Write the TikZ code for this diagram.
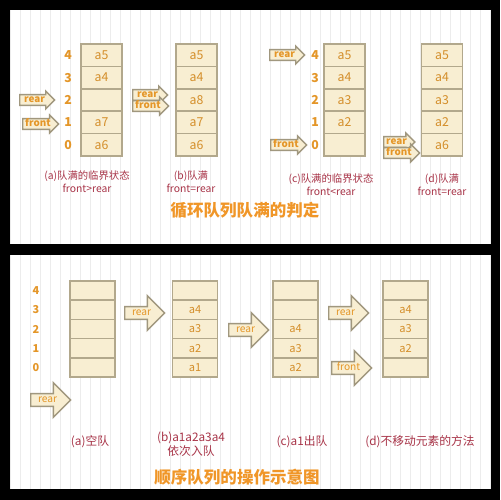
\documentclass[tikz,border=0pt]{standalone}
\usepackage{fontspec}
\setmainfont{Noto Sans CJK SC}
\usetikzlibrary{shapes.arrows}

\definecolor{cellFill}{RGB}{248,238,210}
\definecolor{cellLine}{RGB}{178,168,140}
\definecolor{idxOrange}{RGB}{228,150,40}
\definecolor{cellText}{RGB}{212,142,42}
\definecolor{capRed}{RGB}{168,52,72}
\definecolor{titleOrange}{RGB}{240,150,40}
\definecolor{gridLine}{RGB}{236,236,236}

\tikzset{
  topcell/.style={draw=cellLine, fill=cellFill, line width=1pt, minimum width=0.82cm,
    minimum height=0.448cm, inner sep=0pt, text=cellText, font=\fontsize{7}{8}\selectfont},
  botcell/.style={topcell, minimum width=0.9cm, minimum height=0.384cm,
    font=\fontsize{6.3}{7}\selectfont},
  topidx/.style={text=idxOrange, inner sep=0pt, font=\fontsize{7}{8}\selectfont\bfseries},
  botidx/.style={topidx, font=\fontsize{6.2}{7}\selectfont\bfseries},
  ptr/.style={single arrow, anchor=tail, draw=cellLine!90!black, fill=cellFill, line width=0.8pt,
    text=idxOrange, font=\fontsize{5.6}{6}\selectfont\bfseries, inner xsep=1pt, inner ysep=0.3pt,
    text height=3.8pt, text depth=1pt, single arrow head extend=2pt,
    minimum height=0.7cm, minimum width=0.32cm},
  bigptr/.style={ptr, font=\fontsize{5.8}{6}\selectfont, text height=4.5pt, text depth=1.3pt,
    single arrow head extend=6.3pt, minimum height=0.8cm, minimum width=0.68cm},
  caption/.style={text=capRed, align=center, inner sep=0pt, font=\fontsize{5.9}{7.2}\selectfont},
  botcaption/.style={caption, font=\fontsize{6.7}{8}\selectfont},
  heading/.style={text=titleOrange, inner sep=0pt, font=\fontsize{9.4}{11}\selectfont\bfseries}
}

\begin{document}
\begin{tikzpicture}[x=0.02cm, y=-0.02cm]
% Backdrop and the two panels
\fill[black] (0,0) rectangle (500,500);
\fill[white] (10,10) rectangle (490,244);
\fill[white] (10,255) rectangle (490,489);
\draw[gridLine, line width=0.2pt, step=10] (10,10) grid (490,244);
\draw[gridLine, line width=0.2pt, step=10] (10,255) grid (490,489);

% ---------- Top panel: circular queue full ----------
% (a) stack
\node[topcell] (ta0) at (101.5,144.8) {a6};
\node[topcell] (ta1) at (101.5,122.4) {a7};
\node[topcell] (ta2) at (101.5,100.0) {};
\node[topcell] (ta3) at (101.5,77.6) {a4};
\node[topcell] (ta4) at (101.5,55.2) {a5};
\node[topidx] (tai0) at (68,144.8) {0};
\node[topidx] (tai1) at (68,122.4) {1};
\node[topidx] (tai2) at (68,100.0) {2};
\node[topidx] (tai3) at (68,77.6) {3};
\node[topidx] (tai4) at (68,55.2) {4};
\node[ptr] (tarear) at (19,100) {rear};
\node[ptr] (tafront) at (22,124) {front};
% (b) stack
\node[topcell] (tb0) at (196.5,144.8) {a6};
\node[topcell] (tb1) at (196.5,122.4) {a7};
\node[topcell] (tb2) at (196.5,100.0) {a8};
\node[topcell] (tb3) at (196.5,77.6) {a4};
\node[topcell] (tb4) at (196.5,55.2) {a5};
\node[ptr] (tbrear) at (132,95) {rear};
\node[ptr] (tbfront) at (132,106) {front};
% (c) stack
\node[topcell] (tc0) at (344.5,144.8) {};
\node[topcell] (tc1) at (344.5,122.4) {a2};
\node[topcell] (tc2) at (344.5,100.0) {a3};
\node[topcell] (tc3) at (344.5,77.6) {a4};
\node[topcell] (tc4) at (344.5,55.2) {a5};
\node[topidx] (tci0) at (315,144.8) {0};
\node[topidx] (tci1) at (315,122.4) {1};
\node[topidx] (tci2) at (315,100.0) {2};
\node[topidx] (tci3) at (315,77.6) {3};
\node[topidx] (tci4) at (315,55.2) {4};
\node[ptr] (tcrear) at (269,55) {rear};
\node[ptr] (tcfront) at (270,145) {front};
% (d) stack
\node[topcell] (td0) at (442,144.8) {a6};
\node[topcell] (td1) at (442,122.4) {a2};
\node[topcell] (td2) at (442,100.0) {a3};
\node[topcell] (td3) at (442,77.6) {a4};
\node[topcell] (td4) at (442,55.2) {a5};
\node[ptr, minimum height=0.6cm] (tdrear) at (383,142) {rear};
\node[ptr, minimum height=0.6cm] (tdfront) at (383,153) {front};
% captions
\node[caption] (tacap) at (87,181.5) {(a)队满的临界状态\\front>rear};
\node[caption] (tbcap) at (191,181.5) {(b)队满\\front=rear};
\node[caption] (tccap) at (331,185) {(c)队满的临界状态\\front<rear};
\node[caption] (tdcap) at (442,185) {(d)队满\\front=rear};
\node[heading] (ttitle) at (245,210) {循环队列队满的判定};

% ---------- Bottom panel: sequential queue ----------
% (a) empty
\node[botcell] (ba0) at (92.5,367.4) {};
\node[botcell] (ba1) at (92.5,348.2) {};
\node[botcell] (ba2) at (92.5,329.0) {};
\node[botcell] (ba3) at (92.5,309.8) {};
\node[botcell] (ba4) at (92.5,290.6) {};
\node[botidx] (bai0) at (36,367.4) {0};
\node[botidx] (bai1) at (36,348.2) {1};
\node[botidx] (bai2) at (36,329.0) {2};
\node[botidx] (bai3) at (36,309.8) {3};
\node[botidx] (bai4) at (36,290.6) {4};
\node[bigptr] (barear) at (30,400) {rear};
% (b) enqueue a1..a4
\node[botcell] (bb0) at (195,367.4) {a1};
\node[botcell] (bb1) at (195,348.2) {a2};
\node[botcell] (bb2) at (195,329.0) {a3};
\node[botcell] (bb3) at (195,309.8) {a4};
\node[botcell] (bb4) at (195,290.6) {};
\node[bigptr] (bbrear) at (124,313) {rear};
% (c) dequeue a1
\node[botcell] (bc0) at (295.5,367.4) {a2};
\node[botcell] (bc1) at (295.5,348.2) {a3};
\node[botcell] (bc2) at (295.5,329.0) {a4};
\node[botcell] (bc3) at (295.5,309.8) {};
\node[botcell] (bc4) at (295.5,290.6) {};
\node[bigptr] (bcrear) at (228,330) {rear};
% (d) no moving
\node[botcell] (bd0) at (405.5,367.4) {};
\node[botcell] (bd1) at (405.5,348.2) {a2};
\node[botcell] (bd2) at (405.5,329.0) {a3};
\node[botcell] (bd3) at (405.5,309.8) {a4};
\node[botcell] (bd4) at (405.5,290.6) {};
\node[bigptr] (bdrear) at (328,313) {rear};
\node[bigptr] (bdfront) at (331,368) {front};
% captions
\node[botcaption] (bacap) at (90,442) {(a)空队};
\node[botcaption] (bbcap) at (191,444.5) {(b)a1a2a3a4\\依次入队};
\node[botcaption] (bccap) at (302,442) {(c)a1出队};
\node[botcaption] (bdcap) at (420,442) {(d)不移动元素的方法};
\node[heading] (btitle) at (237,477) {顺序队列的操作示意图};
\end{tikzpicture}
\end{document}
